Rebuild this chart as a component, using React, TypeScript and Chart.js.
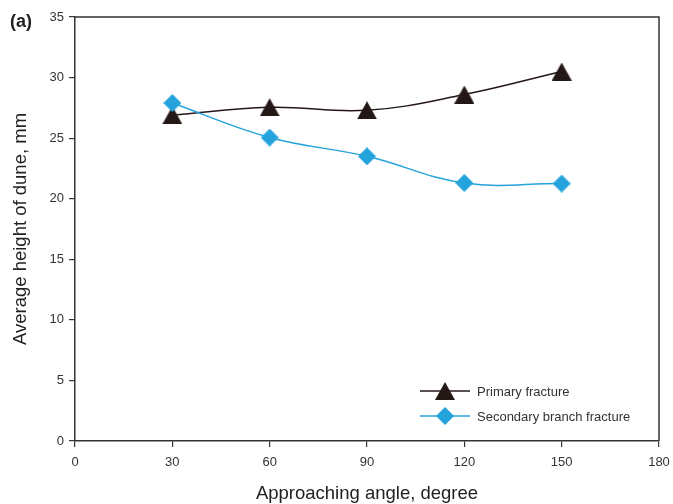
import React, { useEffect, useRef } from "react";
import { Chart, registerables } from "chart.js";

Chart.register(...registerables);

// Approaching angle (degree)
const angles = [30, 60, 90, 120, 150];
// Average dune height (mm)
const primaryFracture = [26.9, 27.55, 27.3, 28.6, 30.5];
const secondaryBranchFracture = [27.9, 25.05, 23.5, 21.3, 21.25];

const xTicks = [0, 30, 60, 90, 120, 150, 180];
const yTicks = [0, 5, 10, 15, 20, 25, 30, 35];

const BLACK = "#231815";
const BLUE = "#25a3dd";
const AXIS = "#333333";
const FONT = "'Liberation Sans', Arial, sans-serif";

function makeTriangle(color: string): HTMLCanvasElement {
  const c = document.createElement("canvas");
  c.width = 20;
  c.height = 18;
  const ctx = c.getContext("2d")!;
  ctx.fillStyle = color;
  ctx.beginPath();
  ctx.moveTo(0, 18);
  ctx.lineTo(10, 0);
  ctx.lineTo(20, 18);
  ctx.closePath();
  ctx.fill();
  return c;
}

function makeDiamond(color: string): HTMLCanvasElement {
  const c = document.createElement("canvas");
  c.width = 18;
  c.height = 18;
  const ctx = c.getContext("2d")!;
  ctx.fillStyle = color;
  ctx.beginPath();
  ctx.moveTo(9, 0);
  ctx.lineTo(18, 9);
  ctx.lineTo(9, 18);
  ctx.lineTo(0, 9);
  ctx.closePath();
  ctx.fill();
  return c;
}

// Closes the plot box on top and right, and writes the panel tag
const framePlugin = {
  id: "frame",
  beforeDatasetsDraw(chart: any) {
    const { ctx, chartArea } = chart;
    ctx.save();
    ctx.strokeStyle = AXIS;
    ctx.lineWidth = 1.5;
    ctx.beginPath();
    ctx.moveTo(chartArea.left, chartArea.top);
    ctx.lineTo(chartArea.right, chartArea.top);
    ctx.lineTo(chartArea.right, chartArea.bottom);
    ctx.stroke();
    ctx.restore();
  },
  afterDraw(chart: any) {
    const { ctx } = chart;
    ctx.save();
    ctx.fillStyle = "#222";
    ctx.font = `bold 18px ${FONT}`;
    ctx.textBaseline = "middle";
    ctx.textAlign = "left";
    ctx.fillText("(a)", 10, 22);
    ctx.restore();
  },
};

// Legend inside the lower right of the plot
const insideLegend = {
  id: "insideLegend",
  afterDatasetsDraw(chart: any) {
    const { ctx } = chart;
    const ordered = [...chart.data.datasets].sort((a: any, b: any) => a.legendRank - b.legendRank);
    ctx.save();
    ordered.forEach((ds: any, i: number) => {
      const y = 391 + i * 25;
      ctx.strokeStyle = ds.borderColor;
      ctx.lineWidth = 1.5;
      ctx.beginPath();
      ctx.moveTo(420, y);
      ctx.lineTo(470, y);
      ctx.stroke();
      const img = ds.pointStyle as HTMLCanvasElement;
      ctx.drawImage(img, 445 - img.width / 2, y - img.height / 2);
      ctx.fillStyle = "#333";
      ctx.font = `13px ${FONT}`;
      ctx.textBaseline = "middle";
      ctx.textAlign = "left";
      ctx.fillText(ds.label, 477, y + 1);
    });
    ctx.restore();
  },
};

export default function App() {
  const ref = useRef<HTMLCanvasElement>(null);

  useEffect(() => {
    if (!ref.current) return;
    const chart = new Chart(ref.current, {
      type: "line",
      data: {
        datasets: [
          {
            label: "Primary fracture",
            data: angles.map((a, i) => ({ x: a, y: primaryFracture[i] })),
            borderColor: BLACK,
            backgroundColor: BLACK,
            borderWidth: 1.5,
            pointStyle: makeTriangle(BLACK),
            tension: 0.4,
            order: 1,
            legendRank: 0,
          } as any,
          {
            label: "Secondary branch fracture",
            data: angles.map((a, i) => ({ x: a, y: secondaryBranchFracture[i] })),
            borderColor: BLUE,
            backgroundColor: BLUE,
            borderWidth: 1.5,
            pointStyle: makeDiamond(BLUE),
            tension: 0.4,
            order: 0,
            legendRank: 1,
          } as any,
        ],
      },
      options: {
        responsive: false,
        animation: false,
        layout: { padding: { top: 17, right: 14, left: 0, bottom: 0 } },
        plugins: {
          legend: { display: false },
          tooltip: { enabled: false },
        },
        scales: {
          x: {
            type: "linear",
            min: 0,
            max: 180,
            afterFit: (s: any) => {
              s.height = 63;
              s.paddingRight = 0;
              s.paddingLeft = 0;
            },
            afterBuildTicks: (s: any) => {
              s.ticks = xTicks.map((v) => ({ value: v }));
            },
            ticks: {
              color: AXIS,
              font: { family: FONT, size: 13 },
              padding: 8,
              maxRotation: 0,
            },
            grid: {
              drawOnChartArea: false,
              drawTicks: true,
              tickLength: 6,
              color: AXIS,
              lineWidth: 1.2,
            },
            border: { display: true, color: AXIS, width: 1.5 },
            title: {
              display: true,
              text: "Approaching angle, degree",
              color: "#222",
              font: { family: FONT, size: 18.5, lineHeight: 1.2 },
              padding: { top: 0, bottom: -1 },
            },
          },
          y: {
            type: "linear",
            min: 0,
            max: 35,
            afterFit: (s: any) => {
              s.width = 75;
              s.paddingTop = 0;
              s.paddingBottom = 0;
            },
            afterBuildTicks: (s: any) => {
              s.ticks = yTicks.map((v) => ({ value: v }));
            },
            ticks: {
              color: AXIS,
              font: { family: FONT, size: 13 },
              padding: 5,
            },
            grid: {
              drawOnChartArea: false,
              drawTicks: true,
              tickLength: 6,
              color: AXIS,
              lineWidth: 1.2,
            },
            border: { display: true, color: AXIS, width: 1.5 },
            title: {
              display: true,
              text: "Average height of dune, mm",
              color: "#222",
              font: { family: FONT, size: 18.5, lineHeight: 1.2 },
              padding: { top: 10, bottom: 0 },
            },
          },
        },
      },
      plugins: [framePlugin, insideLegend],
    });
    return () => chart.destroy();
  }, []);

  return (
    <div style={{ position: "absolute", left: 0, top: 0, width: 673, height: 504, background: "#fff" }}>
      <canvas ref={ref} width={673} height={504} style={{ display: "block" }} />
    </div>
  );
}
